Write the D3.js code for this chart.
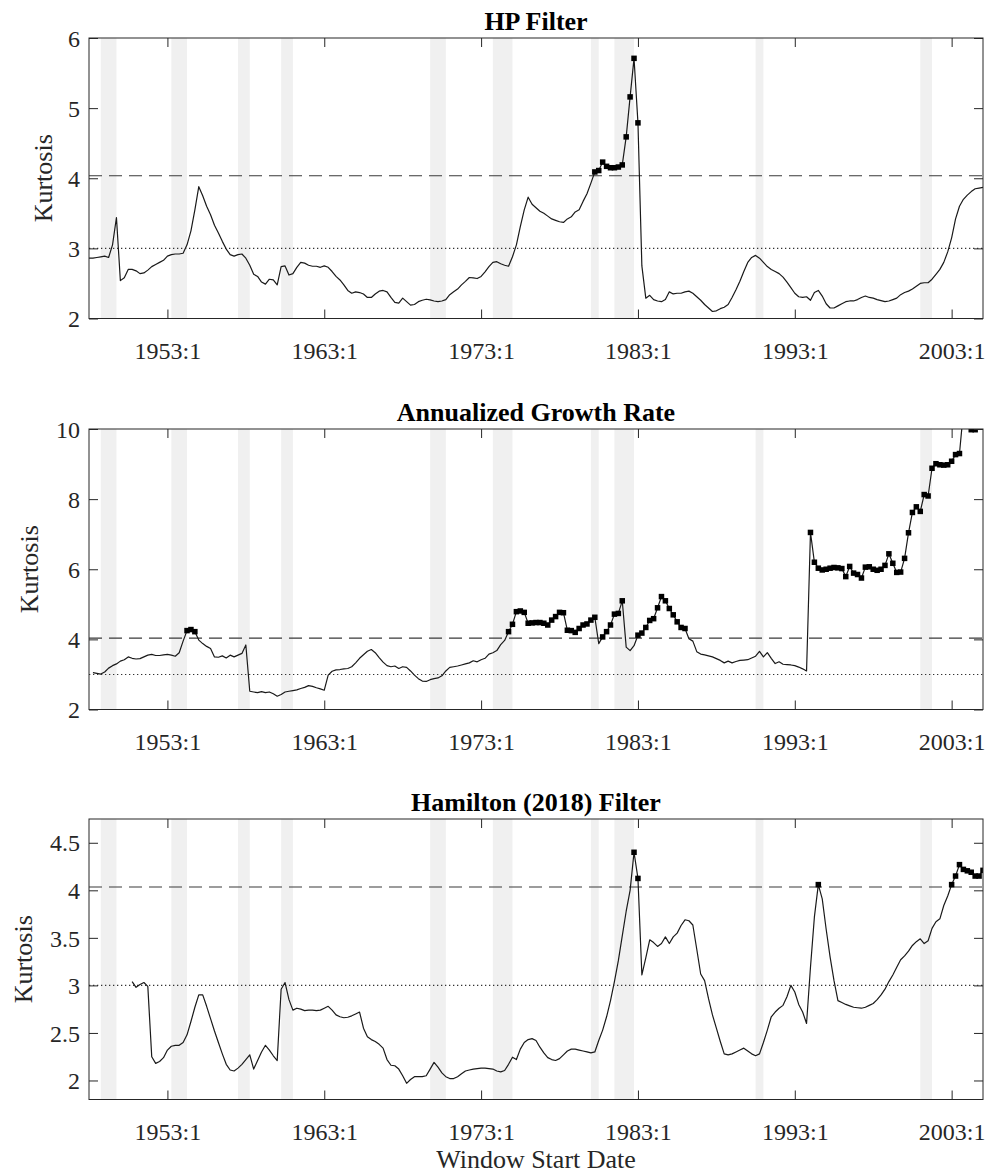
<!DOCTYPE html>
<html>
<head>
<meta charset="utf-8">
<script src="https://cdn.jsdelivr.net/npm/d3@7"></script>
<style>
  body { margin: 0; background: #fff; }
  text { font-family: "Liberation Serif", "Times New Roman", serif; }
</style>
</head>
<body>
<svg id="chart" width="992" height="1175"></svg>
<script>
// ---------------------------------------------------------------
// Rolling-window kurtosis of the cyclical component, three filters.
// Each series is quarterly; the first value belongs to its start
// quarter and every following value to the next quarter.
// ---------------------------------------------------------------

const xDomain = [1948, 2005];
const xTickYears = [1953, 1963, 1973, 1983, 1993, 2003];
const xTickLabels = ["1953:1", "1963:1", "1973:1", "1983:1", "1993:1", "2003:1"];

// NBER recessions (peak, trough) in decimal years
const recessions = [
  [1948.75, 1949.75], [1953.25, 1954.25], [1957.5, 1958.25], [1960.25, 1961.0],
  [1969.75, 1970.75], [1973.75, 1975.0], [1980.0, 1980.5], [1981.5, 1982.75],
  [1990.5, 1991.0], [2001.0, 2001.75]
];

const normalKurtosis = 3;     // dotted reference
const criticalValue = 4.035;  // dashed reference; points above it are marked

const panelTitles = ["HP Filter", "Annualized Growth Rate", "Hamilton (2018) Filter"];
const yDomains = [[2, 6], [2, 10], [1.8, 4.75]];
const yTickValues = [[2, 3, 4, 5, 6], [2, 4, 6, 8, 10], [2, 2.5, 3, 3.5, 4, 4.5]];
const seriesStart = [1948.0, 1948.25, 1950.75];

const hpValues = [
  2.86, 2.86, 2.87, 2.88,   2.89, 2.87, 3.05, 3.44,   2.54, 2.58, 2.70, 2.70,
  2.68, 2.64, 2.65, 2.69,   2.74, 2.77, 2.80, 2.83,   2.89, 2.91, 2.92, 2.92,
  2.93, 3.05, 3.25, 3.55,   3.88, 3.75, 3.60, 3.48,   3.33, 3.22, 3.10, 2.99,
  2.91, 2.89, 2.91, 2.92,   2.86, 2.76, 2.63, 2.60,   2.52, 2.49, 2.56, 2.55,
  2.48, 2.74, 2.75, 2.62,   2.64, 2.73, 2.80, 2.79,   2.76, 2.745, 2.745, 2.73,
  2.75, 2.73, 2.67, 2.60,   2.55, 2.48, 2.40, 2.36,   2.38, 2.37, 2.35, 2.30,
  2.30, 2.35, 2.39, 2.40,   2.38, 2.30, 2.23, 2.22,   2.29, 2.24, 2.19, 2.20,
  2.24, 2.26, 2.275, 2.265, 2.25, 2.24, 2.25, 2.27,   2.34, 2.38, 2.42, 2.48,
  2.53, 2.585, 2.58, 2.57,  2.60, 2.665, 2.74, 2.80,  2.81, 2.78, 2.76, 2.745,
  2.88, 3.05, 3.31, 3.55,   3.73, 3.63, 3.58, 3.53,   3.50, 3.46, 3.42, 3.40,
  3.38, 3.37, 3.42, 3.45,   3.52, 3.55, 3.67, 3.78,   3.93, 4.09, 4.11, 4.23,
  4.17, 4.15, 4.15, 4.16,   4.19, 4.59, 5.16, 5.71,   4.79, 2.75, 2.29, 2.33,
  2.27, 2.25, 2.24, 2.27,   2.38, 2.35, 2.36, 2.36,   2.38, 2.39, 2.36, 2.31,
  2.26, 2.20, 2.15, 2.10,   2.11, 2.14, 2.16, 2.20,   2.30, 2.41, 2.53, 2.67,
  2.80, 2.87, 2.90, 2.86,   2.80, 2.74, 2.70, 2.67,   2.64, 2.59, 2.52, 2.44,
  2.36, 2.31, 2.30, 2.31,   2.26, 2.37, 2.40, 2.32,   2.21, 2.15, 2.15, 2.18,
  2.21, 2.24, 2.25, 2.25,   2.27, 2.30, 2.32, 2.30,   2.29, 2.27, 2.255, 2.24,
  2.25, 2.27, 2.29, 2.34,   2.37, 2.39, 2.42, 2.46,   2.50, 2.51, 2.51, 2.56,
  2.63, 2.70, 2.80, 2.95,   3.15, 3.42, 3.60, 3.70,   3.76, 3.81, 3.85, 3.86,
  3.87
];

const growthValues = [
        3.05, 3.03, 3.01,   3.07, 3.18, 3.25, 3.30,   3.38, 3.42, 3.50, 3.46,
  3.44, 3.45, 3.50, 3.55,   3.57, 3.54, 3.54, 3.56,   3.57, 3.55, 3.52, 3.62,
  3.95, 4.25, 4.28, 4.22,   3.98, 3.88, 3.80, 3.74,   3.50, 3.49, 3.53, 3.47,
  3.55, 3.50, 3.55, 3.60,   3.84, 2.52, 2.50, 2.48,   2.51, 2.48, 2.50, 2.45,
  2.38, 2.43, 2.50, 2.52,   2.54, 2.56, 2.60, 2.63,   2.68, 2.66, 2.62, 2.59,
  2.55, 2.98, 3.09, 3.13,   3.14, 3.16, 3.17, 3.22,   3.33, 3.46, 3.56, 3.66,
  3.71, 3.62, 3.48, 3.35,   3.25, 3.22, 3.24, 3.17,   3.22, 3.20, 3.10, 2.98,
  2.88, 2.81, 2.80, 2.85,   2.88, 2.90, 2.96, 3.10,   3.20, 3.22, 3.24, 3.27,
  3.30, 3.33, 3.39, 3.36,   3.42, 3.46, 3.58, 3.62,   3.68, 3.85, 3.97, 4.22,
  4.43, 4.79, 4.81, 4.77,   4.46, 4.47, 4.48, 4.48,   4.46, 4.41, 4.55, 4.65,
  4.77, 4.76, 4.26, 4.25,   4.20, 4.31, 4.41, 4.44,   4.55, 4.63, 3.88, 4.07,
  4.22, 4.41, 4.72, 4.74,   5.10, 3.78, 3.68, 3.82,   4.12, 4.18, 4.34, 4.54,
  4.59, 4.90, 5.22, 5.10,   4.88, 4.70, 4.50, 4.34,   4.31, 4.02, 3.95, 3.65,
  3.58, 3.56, 3.53, 3.50,   3.45, 3.40, 3.33, 3.38,   3.33, 3.37, 3.40, 3.41,
  3.42, 3.47, 3.52, 3.66,   3.50, 3.62, 3.46, 3.31,   3.36, 3.29, 3.28, 3.27,
  3.25, 3.21, 3.16, 3.10,   7.05, 6.20, 6.03, 5.98,   6.00, 6.03, 6.05, 6.04,
  6.02, 5.79, 6.08, 5.89,   5.85, 5.75, 6.06, 6.07,   6.00, 5.97, 6.00, 6.11,
  6.44, 6.17, 5.91, 5.92,   6.31, 7.04, 7.62, 7.78,   7.65, 8.13, 8.09, 8.88,
  9.01, 8.98, 8.97, 8.98,   9.08, 9.27, 9.30, 10.5,   10.3, 9.98, 9.98, 10.4,
  10.6
];

const hamiltonValues = [
                    3.04,   2.98, 3.01, 3.03, 2.99,   2.25, 2.18, 2.20, 2.24,
  2.32, 2.36, 2.37, 2.37,   2.40, 2.48, 2.62, 2.77,   2.90, 2.90, 2.78, 2.65,
  2.52, 2.40, 2.28, 2.17,   2.11, 2.10, 2.13, 2.17,   2.22, 2.27, 2.12, 2.21,
  2.30, 2.37, 2.32, 2.26,   2.21, 2.96, 3.03, 2.85,   2.74, 2.76, 2.75, 2.735,
  2.74, 2.74, 2.735, 2.74,  2.76, 2.78, 2.74, 2.69,   2.67, 2.66, 2.665, 2.68,
  2.70, 2.72, 2.55, 2.46,   2.43, 2.41, 2.38, 2.34,   2.22, 2.16, 2.155, 2.12,
  2.05, 1.97, 2.01, 2.04,   2.04, 2.04, 2.05, 2.12,   2.19, 2.14, 2.08, 2.04,
  2.02, 2.02, 2.04, 2.07,   2.10, 2.11, 2.12, 2.125,  2.13, 2.13, 2.125, 2.12,
  2.10, 2.09, 2.105, 2.17,  2.245, 2.22, 2.33, 2.40,  2.43, 2.44, 2.42, 2.35,
  2.29, 2.24, 2.22, 2.21,   2.23, 2.27, 2.31, 2.33,   2.33, 2.32, 2.31, 2.30,
  2.29, 2.30, 2.42, 2.53,   2.67, 2.84, 3.04, 3.26,   3.52, 3.78, 4.00, 4.40,
  4.125, 3.11, 3.29, 3.48,  3.45, 3.41, 3.44, 3.51,   3.44, 3.51, 3.55, 3.63,
  3.69, 3.68, 3.635, 3.38,  3.12, 3.05, 2.86, 2.69,   2.55, 2.41, 2.28, 2.27,
  2.28, 2.30, 2.32, 2.34,   2.31, 2.28, 2.26, 2.28,   2.40, 2.53, 2.67, 2.72,
  2.76, 2.79, 2.88, 3.00,   2.93, 2.80, 2.72, 2.60,   3.19, 3.72, 4.06, 3.91,
  3.59, 3.30, 3.05, 2.84,   2.82, 2.80, 2.785, 2.77,  2.765, 2.76, 2.77, 2.79,
  2.81, 2.85, 2.90, 2.96,   3.04, 3.11, 3.19, 3.27,   3.31, 3.36, 3.42, 3.46,
  3.49, 3.44, 3.47, 3.60,   3.67, 3.70, 3.84, 3.94,   4.06, 4.15, 4.27, 4.22,
  4.205, 4.19, 4.15, 4.15,  4.21
];

const seriesValues = [hpValues, growthValues, hamiltonValues];

// ---------------------------------------------------------------
// Layout
// ---------------------------------------------------------------
const serifStack = '"Liberation Serif", "Times New Roman", serif';
const plotLeft = 89, plotRight = 983, plotHeight = 280.5;
const panelTops = [38, 429, 819];
const yLabelX = [52, 38, 32];   // baseline of the rotated "Kurtosis" label
const tickLen = 9;
const inkColor = "#262626";
const shadeColor = "#f0f0f0";

const svg = d3.select("#chart");
svg.append("rect").attr("width", 992).attr("height", 1175).attr("fill", "#fff");

const x = d3.scaleLinear().domain(xDomain).range([plotLeft, plotRight]);

panelTitles.forEach((title, p) => {
  const top = panelTops[p];
  const bottom = top + plotHeight;
  const y = d3.scaleLinear().domain(yDomains[p]).range([bottom, top]);
  const g = svg.append("g");

  const clipId = "clip-" + p;
  svg.append("clipPath").attr("id", clipId)
    .append("rect")
    .attr("x", plotLeft).attr("y", top)
    .attr("width", plotRight - plotLeft).attr("height", plotHeight);

  const plot = g.append("g").attr("clip-path", `url(#${clipId})`);

  // recession shading
  plot.selectAll("rect.rec").data(recessions).enter().append("rect")
    .attr("class", "rec")
    .attr("x", d => x(d[0]))
    .attr("width", d => x(d[1]) - x(d[0]))
    .attr("y", top).attr("height", plotHeight)
    .attr("fill", shadeColor);

  // reference lines
  plot.append("line")
    .attr("x1", plotLeft).attr("x2", plotRight)
    .attr("y1", y(normalKurtosis)).attr("y2", y(normalKurtosis))
    .attr("stroke", "#333").attr("stroke-width", 1.1)
    .attr("stroke-dasharray", "1.3,2.7");
  plot.append("line")
    .attr("x1", plotLeft).attr("x2", plotRight)
    .attr("y1", y(criticalValue)).attr("y2", y(criticalValue))
    .attr("stroke", "#3a3a3a").attr("stroke-width", 1.1)
    .attr("stroke-dasharray", "13,7");

  // series
  const pts = seriesValues[p].map((v, i) => ({ date: seriesStart[p] + i * 0.25, value: v }));
  const line = d3.line().x(d => x(d.date)).y(d => y(d.value));
  plot.append("path").datum(pts)
    .attr("d", line)
    .attr("fill", "none")
    .attr("stroke", "#1a1a1a")
    .attr("stroke-width", 1.2)
    .attr("stroke-linejoin", "round");

  const ms = 5.5;
  plot.selectAll("rect.mk").data(pts.filter(d => d.value > criticalValue)).enter()
    .append("rect")
    .attr("class", "mk")
    .attr("x", d => x(d.date) - ms / 2)
    .attr("y", d => y(d.value) - ms / 2)
    .attr("width", ms).attr("height", ms)
    .attr("fill", "#000");

  // axes box
  g.append("rect")
    .attr("x", plotLeft).attr("y", top)
    .attr("width", plotRight - plotLeft).attr("height", plotHeight)
    .attr("fill", "none").attr("stroke", inkColor).attr("stroke-width", 1);

  // x axis (bottom labels, inward ticks top and bottom)
  const xAxisB = d3.axisBottom(x).tickValues(xTickYears)
    .tickSize(-tickLen).tickPadding(tickLen + 14)
    .tickFormat((d, i) => xTickLabels[i]);
  const xb = g.append("g").attr("transform", `translate(0,${bottom})`).call(xAxisB);
  const xAxisT = d3.axisTop(x).tickValues(xTickYears).tickSize(-tickLen).tickFormat("");
  const xt = g.append("g").attr("transform", `translate(0,${top})`).call(xAxisT);

  // y axis (left labels, inward ticks left and right)
  const fmt = d => String(d);
  const yAxisL = d3.axisLeft(y).tickValues(yTickValues[p])
    .tickSize(-tickLen).tickPadding(tickLen).tickFormat(fmt);
  const yl = g.append("g").attr("transform", `translate(${plotLeft},0)`).call(yAxisL);
  const yAxisR = d3.axisRight(y).tickValues(yTickValues[p]).tickSize(-tickLen).tickFormat("");
  const yr = g.append("g").attr("transform", `translate(${plotRight},0)`).call(yAxisR);

  [xb, xt, yl, yr].forEach(a => {
    a.attr("font-family", serifStack).attr("font-size", 24);
    a.select(".domain").remove();
    a.selectAll(".tick line").attr("stroke", inkColor).attr("stroke-width", 1);
    a.selectAll(".tick text")
      .attr("fill", inkColor)
      .attr("font-family", serifStack)
      .style("font-family", serifStack)
      .style("font-size", "24px");
  });
  yl.selectAll(".tick text").attr("dy", "0.34em");
  xb.selectAll(".tick text").attr("dy", "0.71em");

  // title
  g.append("text")
    .attr("x", (plotLeft + plotRight) / 2).attr("y", top - 8)
    .attr("text-anchor", "middle")
    .style("font-family", serifStack)
    .style("font-size", "26px").style("font-weight", "bold")
    .attr("fill", "#000")
    .text(title);

  // y label
  g.append("text")
    .attr("transform", `translate(${yLabelX[p]},${(top + bottom) / 2}) rotate(-90)`)
    .attr("text-anchor", "middle")
    .style("font-family", serifStack)
    .style("font-size", "26px")
    .attr("fill", inkColor)
    .text("Kurtosis");

  if (p === panelTitles.length - 1) {
    g.append("text")
      .attr("x", (plotLeft + plotRight) / 2).attr("y", bottom + 68)
      .attr("text-anchor", "middle")
      .style("font-family", serifStack)
      .style("font-size", "26px")
      .attr("fill", inkColor)
      .text("Window Start Date");
  }
});
</script>
</body>
</html>
